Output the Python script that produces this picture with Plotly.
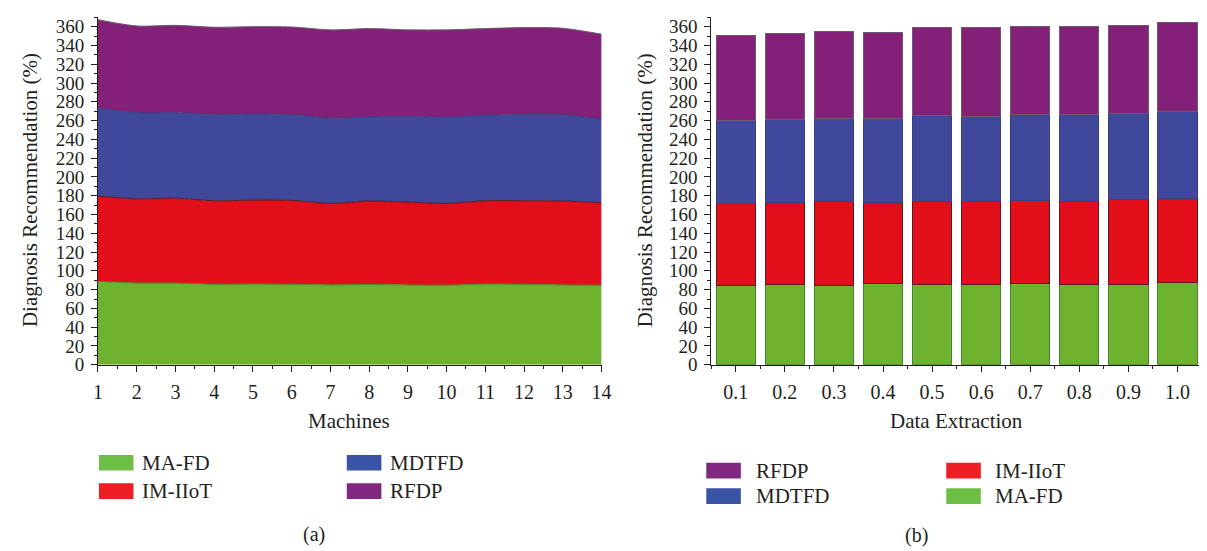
import plotly.graph_objects as go

# ---------------- data ----------------
machines = list(range(1, 15))
series_names = ["MA-FD", "IM-IIoT", "MDTFD", "RFDP"]

# panel (a): per-method values for machines 1..14 (stacked)
a_mafd   = [88.9, 87.1, 87.0, 85.7, 86.0, 85.7, 85.0, 85.4, 85.0, 84.7, 86.0, 85.7, 85.0, 84.7]
a_imiiot = [90.6, 89.6, 90.4, 88.9, 89.3, 89.3, 86.8, 88.9, 88.2, 87.1, 88.6, 88.9, 89.3, 87.8]
a_mdtfd  = [93.8, 91.7, 91.0, 92.0, 91.7, 91.3, 90.7, 89.6, 91.0, 91.7, 91.0, 91.7, 91.7, 88.9]
a_rfdp   = [94.1, 92.4, 93.0, 92.8, 93.0, 93.4, 94.1, 94.1, 92.4, 93.1, 92.4, 92.7, 92.3, 90.6]

# panel (b): per-method values for data extraction levels (stacked)
extraction = ["0.1", "0.2", "0.3", "0.4", "0.5", "0.6", "0.7", "0.8", "0.9", "1.0"]
b_mafd   = [84.7, 85.4, 84.7, 86.0, 85.7, 85.7, 86.0, 85.4, 85.7, 87.1]
b_imiiot = [87.1, 87.8, 88.9, 87.2, 87.9, 88.6, 89.0, 88.9, 90.3, 90.3]
b_mdtfd  = [88.2, 88.2, 88.9, 89.3, 92.0, 89.9, 92.0, 92.3, 91.3, 92.0]
b_rfdp   = [90.3, 91.6, 92.0, 90.9, 93.4, 94.5, 93.0, 93.4, 93.7, 95.2]

y_ticks = list(range(0, 361, 20))

# ---------------- styles ----------------
fill_colors = {"MA-FD": "#6EB230", "IM-IIoT": "#E20E1A", "MDTFD": "#3F489B", "RFDP": "#822177"}
edge_colors = {"MA-FD": "#3E8A2A", "IM-IIoT": "#5A1A1E", "MDTFD": "#3A3F80", "RFDP": "#6E5A6E"}
legend_colors = {"MA-FD": "#6CBE46", "IM-IIoT": "#ED1E24", "MDTFD": "#3954A5", "RFDP": "#802880"}
FONT = "Liberation Serif"
TXT = "#231F20"
W, H = 1207, 551

def px_x(v):
    return v / W

def px_y(v):
    return 1 - v / H

fig = go.Figure()

a_values = [a_mafd, a_imiiot, a_mdtfd, a_rfdp]
for name, vals in zip(series_names, a_values):
    fig.add_trace(go.Scatter(
        x=machines, y=vals, name=name, stackgroup="a", mode="lines",
        line=dict(color=edge_colors[name], width=1, shape="spline", smoothing=0.8),
        fillcolor=fill_colors[name], showlegend=False,
        xaxis="x", yaxis="y"))

b_x = list(range(len(extraction)))
b_values = [b_mafd, b_imiiot, b_mdtfd, b_rfdp]
for name, vals in zip(series_names, b_values):
    fig.add_trace(go.Bar(
        x=b_x, y=vals, name=name, width=0.8,
        marker=dict(color=fill_colors[name], line=dict(color=edge_colors[name], width=1)),
        showlegend=False, xaxis="x2", yaxis="y2"))

axis_common = dict(showline=True, linecolor=TXT, linewidth=1, ticks="outside",
                   tickcolor=TXT, tickwidth=1, showgrid=False, zeroline=False)

y_common = dict(axis_common, range=[0, 370.5], tickvals=y_ticks, ticklen=6, ticklabelstandoff=3,
                tickfont=dict(family=FONT, size=19, color=TXT),
                minor=dict(ticks="outside", ticklen=3, tickcolor=TXT, tickmode="linear", tick0=0, dtick=10))

x_font = dict(family=FONT, size=20, color=TXT)

fig.update_layout(
    width=W, height=H, autosize=False,
    margin=dict(l=0, r=0, t=0, b=0),
    paper_bgcolor="white", plot_bgcolor="white",
    barmode="stack",
    xaxis=dict(axis_common, domain=[px_x(86), px_x(596)], range=[1, 14],
               tickvals=machines, ticklen=6, ticklabelstandoff=3, tickfont=x_font,
               minor=dict(ticks="outside", ticklen=3, tickcolor=TXT, tickmode="linear", tick0=0.5, dtick=1),
               anchor="y"),
    yaxis=dict(y_common, domain=[px_y(364), px_y(9)], anchor="x"),
    xaxis2=dict(axis_common, domain=[px_x(707), px_x(1204)], range=[-0.5, 9.5],
                tickvals=b_x, ticktext=extraction, ticklen=6, ticklabelstandoff=3, tickfont=x_font,
                minor=dict(ticks="outside", ticklen=3, tickcolor=TXT, tickmode="linear", tick0=0.5, dtick=1),
                anchor="y2"),
    yaxis2=dict(y_common, domain=[px_y(364), px_y(9)], anchor="x2"),
)

ann = []
shapes = []
def text(x, y, s, size=20, xanchor="center", angle=0):
    ann.append(dict(x=px_x(x), y=px_y(y), xref="paper", yref="paper", text=s, showarrow=False,
                    xanchor=xanchor, yanchor="middle", textangle=angle,
                    font=dict(family=FONT, size=size, color=TXT)))

# axis titles
text(18, 186, "Diagnosis Recommendation (%)", size=21, angle=-90)
text(640, 186, "Diagnosis Recommendation (%)", size=21, angle=-90)
text(340, 421, "Machines", size=21)
text(955, 421, "Data Extraction", size=21)
text(305, 537, "(a)", size=20)
text(915, 538, "(b)", size=20)

def legend_item(x0, yc, name, tx):
    shapes.append(dict(type="rect", xref="paper", yref="paper",
                       x0=px_x(x0), x1=px_x(x0 + 35), y0=px_y(yc + 8), y1=px_y(yc - 8),
                       fillcolor=legend_colors[name], line=dict(width=0)))
    text(tx, yc, name, size=21, xanchor="left")

# legend (a)
legend_item(87, 464, series_names[0], 129)
legend_item(87, 493, series_names[1], 129)
legend_item(338, 464, series_names[2], 380)
legend_item(338, 493, series_names[3], 380)
# legend (b)
legend_item(702, 472, series_names[3], 750)
legend_item(702, 498, series_names[2], 750)
legend_item(945, 472, series_names[1], 992)
legend_item(945, 498, series_names[0], 992)

fig.update_layout(annotations=ann, shapes=shapes)
fig.write_html("out.html")
